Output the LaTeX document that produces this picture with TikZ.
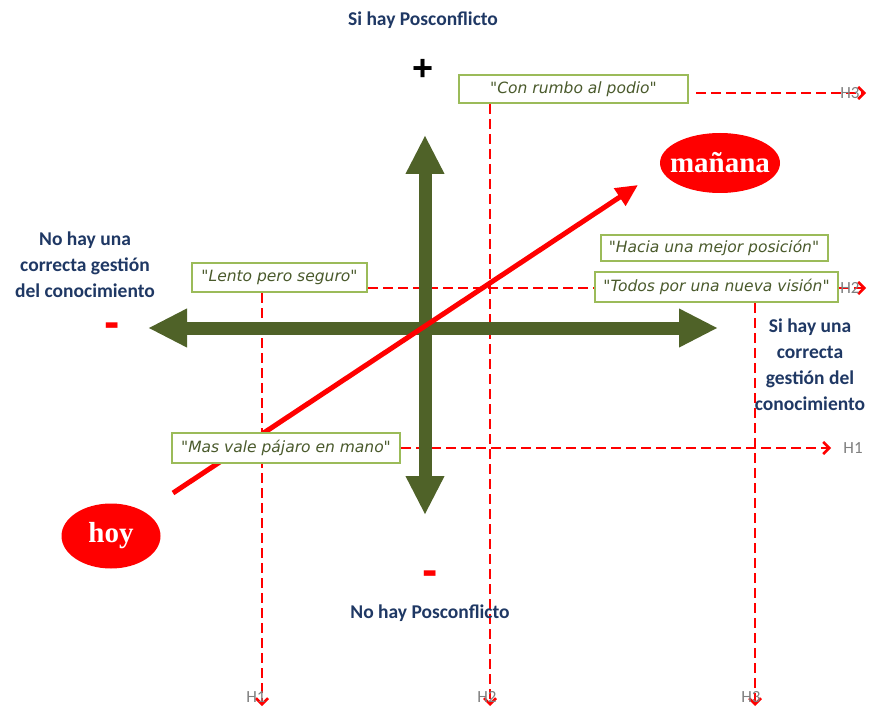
\documentclass[tikz,border=0pt]{standalone}
\usepackage{fontspec}
\setmainfont{Carlito}
\newfontfamily\serifbold{Liberation Serif}
\newfontfamily\handfont{DejaVu Sans}
\newfontfamily\signfont{Liberation Sans}
\usetikzlibrary{arrows.meta,shapes.geometric,backgrounds}
\definecolor{axisgreen}{HTML}{4F6228}
\definecolor{boxgreen}{HTML}{9BBB59}
\definecolor{navy}{HTML}{1F3864}
\definecolor{boxtext}{HTML}{4A5A2C}
\definecolor{hgray}{HTML}{808080}
\tikzset{
  axis/.style={draw=axisgreen, line width=13pt,
    arrows={Triangle[length=39pt,width=36pt]-Triangle[length=39pt,width=36pt]}},
  trend/.style={draw=red, line width=5pt, -{Triangle[length=22pt,width=20pt]}},
  hline/.style={draw=red, line width=2.5pt, dash pattern=on 10pt off 5pt,
    -{Straight Barb[length=6pt,width=12pt]}},
  scenario/.style={draw=boxgreen, line width=2pt, fill=white, inner sep=0pt,
    text=boxtext, font=\handfont\itshape\fontsize{15.5}{17}\selectfont},
  heading/.style={text=navy, font=\bfseries\fontsize{19.5}{26}\selectfont, align=center},
  timeoval/.style={ellipse, fill=red, inner xsep=-14pt, inner ysep=-6pt, text=white,
    font=\serifbold\bfseries\fontsize{29}{30}\selectfont},
  hlabel/.style={text=hgray, font=\fontsize{17}{18}\selectfont, inner sep=0pt},
  sign/.style={font=\signfont\bfseries\fontsize{36}{36}\selectfont, inner sep=0pt},
  minus/.style={font=\signfont\bfseries\fontsize{46}{46}\selectfont, inner sep=0pt, text=red}
}
\begin{document}
\begin{tikzpicture}[x=1pt,y=-1pt]

% scenario boxes
\node[scenario, minimum width=229pt, minimum height=28pt] (rumbo) at (573.5,89) {"Con rumbo al podio"};
\node[scenario, minimum width=227pt, minimum height=26pt] (hacia) at (714,248) {"Hacia una mejor posición"};
\node[scenario, minimum width=243pt, minimum height=30pt] (todos) at (716.5,287) {"Todos por una nueva visión"};
\node[scenario, minimum width=175pt, minimum height=29pt] (lento) at (279.5,277.5) {"Lento pero seguro"};
\node[scenario, minimum width=228pt, minimum height=30pt] (mas) at (286,448) {"Mas vale pájaro en mano"};

% horizon labels
\node[hlabel] (h3r) at (850,93) {H3};
\node[hlabel] (h2r) at (850,288) {H2};
\node[hlabel] (h1r) at (853,448) {H1};
\node[hlabel] (h1b) at (256,697) {H1};
\node[hlabel] (h2b) at (487,697) {H2};
\node[hlabel] (h3b) at (751,697) {H3};

\coordinate (h3end) at (866,93);
\coordinate (h2end) at (866,288);
\coordinate (h1end) at (831,448);
\coordinate (v1end) at (262,706);
\coordinate (v2end) at (490,706);
\coordinate (v3end) at (755,706);
\coordinate (vtop) at (425,135);
\coordinate (vbot) at (425,515);
\coordinate (hleft) at (148,328);
\coordinate (hright) at (718,328);
\coordinate (trendstart) at (173,493);
\coordinate (trendend) at (638,185);

\begin{scope}[on background layer]
  \fill[white] (0,0) rectangle (872,711);
  % dashed horizons
  \draw[hline] (rumbo.east) ++(7,4) -- (h3end);
  \draw[hline, -] (lento.east |- 0,288) -- (todos.west |- 0,288);
  \draw[hline] (todos.east |- 0,288) -- (h2end);
  \draw[hline] (mas.east) -- (h1end);
  \draw[hline] (lento.south -| 262,0) -- (v1end);
  \draw[hline] (rumbo.south -| 490,0) -- (v2end);
  \draw[hline] (todos.south -| 755,0) -- (v3end);
  % axes
  \draw[axis] (vtop) -- (vbot);
  \draw[axis] (hleft) -- (hright);
  % trend from today to tomorrow
  \draw[trend] (trendstart) -- (trendend);
\end{scope}
\useasboundingbox (0,0) rectangle (872,711);

% time ovals
\node[timeoval, minimum width=120pt, minimum height=60pt] (manana) at (720,163) {mañana};
\node[timeoval, minimum width=99pt, minimum height=65pt] (hoy) at (111,536) {hoy};

% axis headings
\node[heading] (top) at (423,20) {Si hay Posconflicto};
\node[heading] (bottom) at (430,613) {No hay Posconflicto};
\node[heading] (left) at (85,265) {No hay una\\correcta gestión\\del conocimiento};
\node[heading] (right) at (810,365) {Si hay una\\correcta\\gestión del\\conocimiento};
\node[sign] (plus) at (423,70) {+};
\node[minus] (minusl) at (112,330) {-};
\node[minus] (minusb) at (430,578) {-};
\end{tikzpicture}
\end{document}
